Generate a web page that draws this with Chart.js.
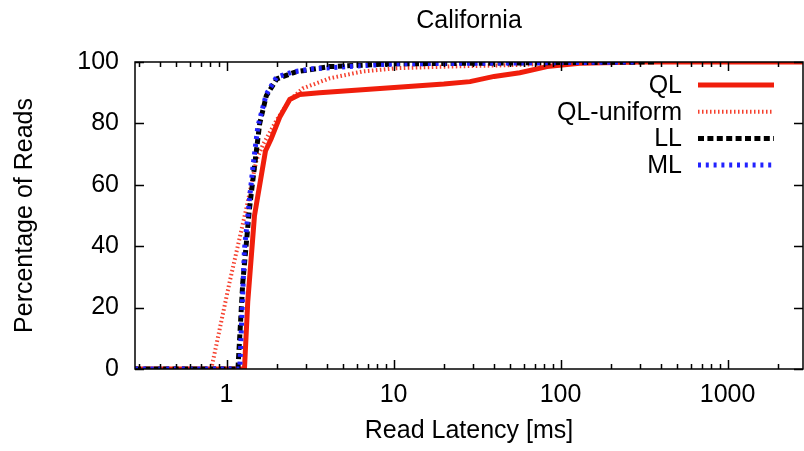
<!DOCTYPE html>
<html>
<head>
<meta charset="utf-8">
<title>California</title>
<script src="https://cdn.jsdelivr.net/npm/chart.js@4"></script>
<style>
  body { margin: 0; background: #fff; }
  canvas { display: block; }
</style>
</head>
<body>
<canvas id="myChart" width="804" height="451"></canvas>
<script>
// Read latency CDFs (x in ms, y in % of reads)
const qlX = [0.283, 1.28, 1.34, 1.47, 1.71, 1.85, 2.08, 2.39, 2.74, 3.6, 8.3, 20, 28.7, 40, 57, 83, 130, 300, 2830];
const qlY = [0, 0, 22, 50, 71, 75, 82, 87.8, 89.4, 90, 91.4, 92.8, 93.6, 95.3, 96.5, 98.5, 99.6, 100, 100];

const qlUniformX = [0.283, 0.81, 1.04, 1.31, 1.51, 1.65, 1.99, 2.39, 2.86, 4.15, 6.5, 10.5, 20.8, 52, 104, 300, 2830];
const qlUniformY = [0, 0, 28, 52, 68, 73, 81, 87.6, 91.4, 94.7, 96.9, 98, 98.5, 99, 99.6, 100, 100];

const llX = [0.283, 1.17, 1.25, 1.37, 1.47, 1.58, 1.73, 2.0, 2.6, 4.15, 10, 100, 380];
const llY = [0, 0, 28, 52, 66, 80, 89, 94.5, 96.8, 98.5, 99.4, 99.8, 100];

const mlX = [0.283, 1.2, 1.28, 1.37, 1.44, 1.54, 1.73, 1.99, 2.5, 3.3, 10, 100, 290];
const mlY = [0, 0, 39, 55, 66, 79, 89.5, 95, 96.8, 97.8, 99.4, 99.8, 100];

const seriesNames = ['QL', 'QL-uniform', 'LL', 'ML'];
const xTickValues = [1, 10, 100, 1000];
const yTickValues = [0, 20, 40, 60, 80, 100];

const FONT = "'Liberation Sans', Arial, Helvetica, sans-serif";
Chart.defaults.font.family = FONT;
Chart.defaults.font.size = 25;
Chart.defaults.color = '#000';

function points(xs, ys) {
    return xs.map((x, i) => ({ x: x, y: ys[i] }));
}

// Frame, inward ticks, title and right-aligned key
const decorations = {
    id: 'decorations',
    afterDatasetsDraw(chart) {
        const { ctx, chartArea: a, scales: { x, y } } = chart;
        ctx.save();
        ctx.strokeStyle = '#000';
        ctx.lineWidth = 1.5;

        // x ticks: majors at decades, minors at 2..9
        ctx.beginPath();
        for (let d = 0.1; d <= 1000; d *= 10) {
            for (let m = 1; m <= 9; m++) {
                const v = d * m;
                if (v < x.min || v > x.max) continue;
                const px = Math.round(x.getPixelForValue(v)) + 0.5;
                const len = m === 1 ? 9 : 5;
                ctx.moveTo(px, a.bottom); ctx.lineTo(px, a.bottom - len);
                ctx.moveTo(px, a.top); ctx.lineTo(px, a.top + len);
            }
        }
        yTickValues.forEach(v => {
            const py = Math.round(y.getPixelForValue(v)) + 0.5;
            ctx.moveTo(a.left, py); ctx.lineTo(a.left + 9, py);
            ctx.moveTo(a.right, py); ctx.lineTo(a.right - 9, py);
        });
        ctx.stroke();
        ctx.strokeRect(a.left, a.top, a.right - a.left, a.bottom - a.top);

        // title
        ctx.fillStyle = '#000';
        ctx.font = '25px ' + FONT;
        ctx.textAlign = 'center';
        ctx.textBaseline = 'middle';
        ctx.fillText('California', (a.left + a.right) / 2, 21);

        // key
        ctx.textAlign = 'right';
        chart.data.datasets.forEach((ds, i) => {
            const cy = 85 + i * 26.7;
            ctx.fillStyle = '#000';
            ctx.fillText(ds.label, 682, cy + 1);
            ctx.beginPath();
            ctx.strokeStyle = ds.borderColor;
            ctx.lineWidth = ds.borderWidth;
            ctx.setLineDash(ds.borderDash || []);
            ctx.moveTo(698, cy); ctx.lineTo(774, cy);
            ctx.stroke();
            ctx.setLineDash([]);
        });
        ctx.restore();
    }
};

const ctx = document.getElementById('myChart').getContext('2d');
new Chart(ctx, {
    type: 'line',
    data: {
        datasets: [{
            label: seriesNames[0],
            data: points(qlX, qlY),
            borderColor: '#f01e0c',
            borderWidth: 5,
            order: 3
        }, {
            label: seriesNames[1],
            data: points(qlUniformX, qlUniformY),
            borderColor: '#f5402e',
            borderWidth: 4,
            borderDash: [1.5, 2.5],
            order: 4
        }, {
            label: seriesNames[2],
            data: points(llX, llY),
            borderColor: '#000',
            borderWidth: 5,
            borderDash: [6, 3.4],
            order: 2
        }, {
            label: seriesNames[3],
            data: points(mlX, mlY),
            borderColor: '#2222ff',
            borderWidth: 5,
            borderDash: [3, 4.8],
            order: 1
        }]
    },
    options: {
        responsive: false,
        animation: false,
        layout: { padding: { top: 62, right: 1, left: 0, bottom: 0 } },
        elements: {
            point: { radius: 0 },
            line: { tension: 0, fill: false, borderCapStyle: 'butt' }
        },
        plugins: {
            legend: { display: false },
            title: { display: false },
            tooltip: { enabled: false }
        },
        scales: {
            x: {
                type: 'logarithmic',
                min: 0.283,
                max: 2830,
                afterBuildTicks: s => { s.ticks = xTickValues.map(v => ({ value: v })); },
                afterFit: s => { s.height = 82; },
                grid: { display: false, drawTicks: false },
                border: { display: false },
                ticks: {
                    padding: 11,
                    maxRotation: 0,
                    autoSkip: false,
                    callback: v => String(v)
                },
                title: { display: true, text: 'Read Latency [ms]', padding: { top: 0, bottom: 5 } }
            },
            y: {
                min: 0,
                max: 100,
                afterBuildTicks: s => { s.ticks = yTickValues.map(v => ({ value: v })); },
                afterFit: s => { s.width = 135; },
                grid: { display: false, drawTicks: false },
                border: { display: false },
                ticks: { padding: 16 },
                title: { display: true, text: 'Percentage of Reads', padding: { top: 10, bottom: 0 } }
            }
        }
    },
    plugins: [decorations]
});
</script>
</body>
</html>
